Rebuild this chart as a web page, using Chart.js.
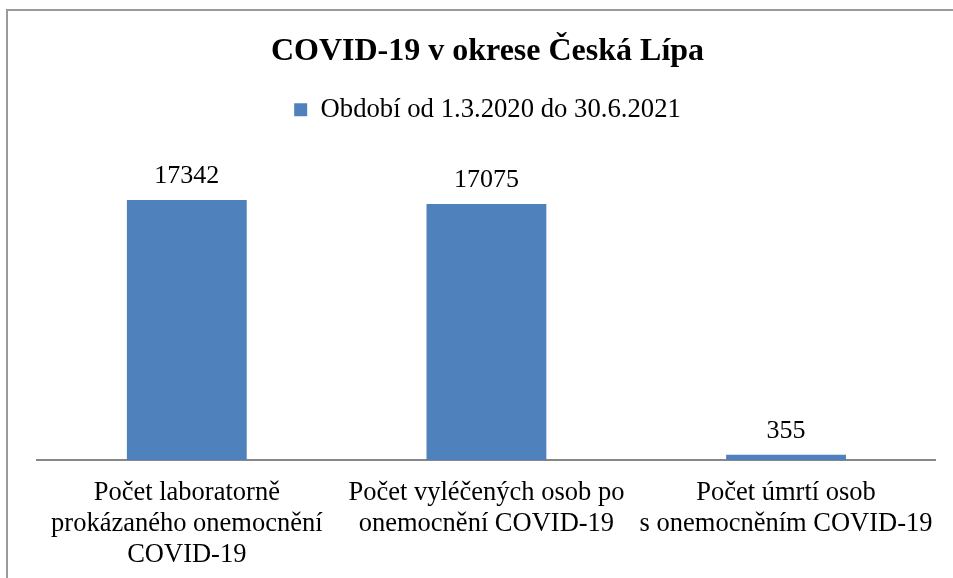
<!DOCTYPE html>
<html>
<head>
<meta charset="utf-8">
<title>COVID-19 v okrese Česká Lípa</title>
<script src="https://cdn.jsdelivr.net/npm/chart.js@4/dist/chart.umd.min.js"></script>
<style>
  html, body { margin: 0; padding: 0; background: #fff; }
  canvas { display: block; }
</style>
</head>
<body>
<canvas id="chart" width="953" height="578"></canvas>
<script>
const categories = [
  ["Počet laboratorně", "prokázaného onemocnění", "COVID-19"],
  ["Počet vyléčených osob po", "onemocnění COVID-19"],
  ["Počet úmrtí osob", "s onemocněním COVID-19"]
];
const seriesLabel = "Období od 1.3.2020 do 30.6.2021";
const values = [17342, 17075, 355];

const serif = "'Liberation Serif', 'Times New Roman', serif";
Chart.defaults.color = "#000";
Chart.defaults.font.family = serif;

// frame round the whole chart, like the office export
const framePlugin = {
  id: "frame",
  beforeDraw(chart) {
    const ctx = chart.ctx;
    ctx.save();
    ctx.fillStyle = "#fff";
    ctx.fillRect(0, 0, chart.width, chart.height);
    ctx.strokeStyle = "#9a9a9a";
    ctx.lineWidth = 2;
    ctx.strokeRect(7, 10, chart.width + 20, chart.height + 20);
    ctx.restore();
  }
};

// value above each bar
const valueLabels = {
  id: "valueLabels",
  afterDatasetsDraw(chart) {
    const ctx = chart.ctx;
    ctx.save();
    ctx.font = "26px " + serif;
    ctx.fillStyle = "#000";
    ctx.textAlign = "center";
    ctx.textBaseline = "alphabetic";
    chart.getDatasetMeta(0).data.forEach((bar, i) => {
      ctx.fillText(String(chart.data.datasets[0].data[i]), bar.x, bar.y - 17);
    });
    ctx.restore();
  }
};

new Chart(document.getElementById("chart"), {
  type: "bar",
  data: {
    labels: categories,
    datasets: [{
      label: seriesLabel,
      data: values,
      backgroundColor: "#4f81bd",
      borderWidth: 0,
      categoryPercentage: 1,
      barPercentage: 0.4
    }]
  },
  options: {
    responsive: false,
    animation: false,
    layout: { padding: { left: 37, right: 15, top: 10, bottom: -11 } },
    plugins: {
      title: {
        display: true,
        text: "COVID-19 v okrese Česká Lípa",
        font: { size: 32, weight: "bold", family: serif },
        color: "#000",
        padding: { top: 23, bottom: 15 }
      },
      legend: {
        display: true,
        labels: {
          boxWidth: 13,
          boxHeight: 13,
          padding: 10,
          font: { size: 26.7, family: serif },
          color: "#000"
        }
      },
      subtitle: {
        display: true,
        text: "",
        weight: 500,
        font: { size: 10, lineHeight: 1 },
        padding: { top: 0, bottom: 17 }
      },
      tooltip: { enabled: false }
    },
    scales: {
      x: {
        grid: { display: false, drawTicks: false },
        border: { display: true, color: "#878787", width: 2 },
        ticks: {
          autoSkip: false,
          maxRotation: 0,
          padding: 18,
          color: "#000",
          font: { size: 26.5, family: serif, lineHeight: 1.17 }
        }
      },
      y: {
        display: false,
        min: 0,
        max: 20000
      }
    }
  },
  plugins: [framePlugin, valueLabels]
});
</script>
</body>
</html>
